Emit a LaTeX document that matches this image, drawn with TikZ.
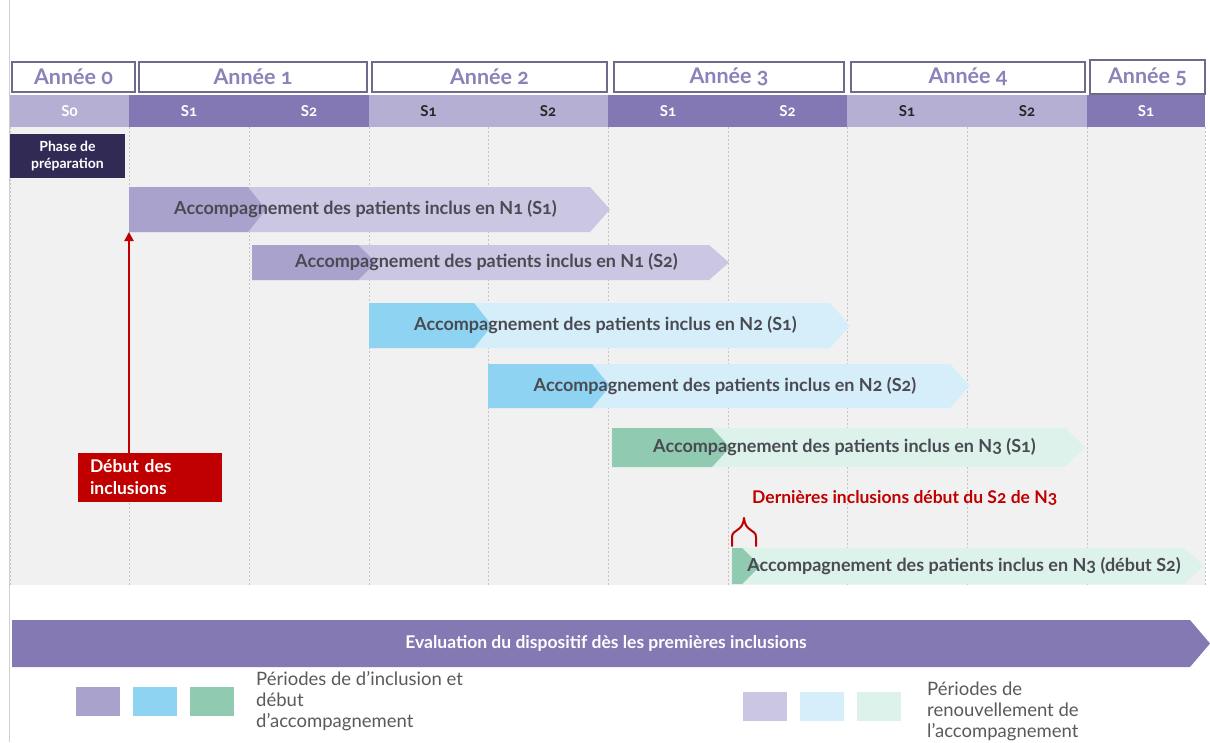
\documentclass[tikz,border=0pt]{standalone}
\usepackage{fontspec}
\setmainfont{Lato}[Numbers=OldStyle]
\usetikzlibrary{arrows.meta}
\definecolor{yearline}{HTML}{6F6A8A}
\definecolor{yeartext}{HTML}{8A82B8}
\definecolor{semLc}{HTML}{B5AFD3}
\definecolor{semDc}{HTML}{8378B3}
\definecolor{gridbg}{HTML}{F1F1F1}
\definecolor{gridln}{HTML}{C4C4C4}
\definecolor{prepc}{HTML}{302A55}
\definecolor{purD}{HTML}{A9A2CC}
\definecolor{purL}{HTML}{CBC6E1}
\definecolor{bluD}{HTML}{8ED3F2}
\definecolor{bluL}{HTML}{D6EEFA}
\definecolor{greD}{HTML}{8FCAB1}
\definecolor{greL}{HTML}{DCF2EA}
\definecolor{redc}{HTML}{C00000}
\definecolor{evalc}{HTML}{8479B3}
\definecolor{rowtxt}{HTML}{4A4A52}
\definecolor{legtxt}{HTML}{5A5A5A}
\definecolor{borderln}{HTML}{D0D0D0}
\tikzset{
  cellbox/.style={inner sep=0pt, outer sep=0pt},
  yearbox/.style={cellbox, draw=yearline, line width=1.3pt, fill=white, text=yeartext, font=\bfseries\fontsize{21.5}{22}\selectfont},
  semlight/.style={cellbox, fill=semLc, text=black!85, font=\bfseries\fontsize{15}{15}\selectfont},
  semlightw/.style={semlight, text=white},
  semdark/.style={cellbox, fill=semDc, text=white, font=\bfseries\fontsize{15}{15}\selectfont},
  prepbox/.style={cellbox, fill=prepc, text=white, align=center, font=\bfseries\fontsize{14}{17}\selectfont},
  debutbox/.style={cellbox, fill=redc, text=white, align=left, text width=120pt, inner xsep=12pt, font=\bfseries\fontsize{17.5}{22}\selectfont},
  rowtext/.style={inner sep=0pt, text=rowtxt, font=\bfseries\fontsize{18}{18}\selectfont},
  redtext/.style={inner sep=0pt, text=redc, font=\bfseries\fontsize{17.5}{18}\selectfont},
  evaltext/.style={inner sep=0pt, text=white, font=\bfseries\fontsize{17.5}{18}\selectfont},
  legsq/.style={cellbox},
  legtext/.style={inner sep=0pt, text=legtxt, align=left, font=\fontsize{18.5}{21}\selectfont},
  gridline/.style={gridln, line width=0.8pt, dash pattern=on 2pt off 2pt},
  redarrow/.style={redc, line width=2pt, -{Triangle[length=9pt,width=9pt]}},
  bracestyle/.style={redc, line width=2pt, line cap=round, line join=round}
}
% #1 name, #2 style, #3 x1, #4 y1, #5 x2, #6 y2, #7 text
\newcommand{\cellnode}[7]{\node[#2, minimum width={(#5-#3)*1pt}, minimum height={(#6-#4)*1pt}] (#1) at ({(#3+#5)/2},{(#4+#6)/2}) {#7};}
% #1 name, #2 x start, #3 y top, #4 y bottom, #5 dark tip, #6 light tip, #7 colour prefix, #8 text
\newcommand{\chevrow}[8]{%
  \fill[#7L] (#2,#3) -- ({#6-20},#3) -- (#6,{(#3+#4)/2}) -- ({#6-20},#4) -- (#2,#4) -- cycle;
  \fill[#7D] (#2,#3) -- ({#5-18},#3) -- (#5,{(#3+#4)/2}) -- ({#5-18},#4) -- (#2,#4) -- cycle;
  \coordinate (#1-sw) at (#2,#4);
  \node[rowtext] (#1) at ({(#2+#6)/2-4},{(#3+#4)/2}) {#8};}
\begin{document}
\begin{tikzpicture}[x=1pt,y=-1pt]
\useasboundingbox (0,0) rectangle (1210,742);
\fill[white] (0,0) rectangle (1210,742);
\draw[borderln, line width=1pt] (9,0) -- (9,742);
% years
\cellnode{y0}{yearbox}{12}{62}{135}{92}{Année 0}
\cellnode{y1}{yearbox}{139}{62}{367}{92}{Année 1}
\cellnode{y2}{yearbox}{372}{62}{607}{92}{Année 2}
\cellnode{y3}{yearbox}{614}{62}{844}{92}{Année 3}
\cellnode{y4}{yearbox}{851}{62}{1085}{92}{Année 4}
\cellnode{y5}{yearbox}{1090}{60}{1205}{94}{Année 5}
% semesters
\cellnode{s0}{semlightw}{10}{95}{129}{127}{S0}
\cellnode{s11}{semdark}{129}{95}{249}{127}{S1}
\cellnode{s12}{semdark}{249}{95}{369}{127}{S2}
\cellnode{s21}{semlight}{369}{95}{488}{127}{S1}
\cellnode{s22}{semlight}{488}{95}{608}{127}{S2}
\cellnode{s31}{semdark}{608}{95}{728}{127}{S1}
\cellnode{s32}{semdark}{728}{95}{847}{127}{S2}
\cellnode{s41}{semlight}{847}{95}{967}{127}{S1}
\cellnode{s42}{semlight}{967}{95}{1087}{127}{S2}
\cellnode{s51}{semdark}{1087}{95}{1205}{127}{S1}
% grid
\fill[gridbg] (10,127) rectangle (1205,585);
\foreach \gx in {10,129,249,369,488,608,728,847,967,1087,1205}
  \draw[gridline] (\gx,127) -- (\gx,585);
% preparation
\cellnode{prep}{prepbox}{10}{134}{125}{178}{Phase de\\préparation}
% rows
\chevrow{r1}{129}{187}{232}{266}{610}{pur}{Accompagnement des patients inclus en N1 (S1)}
\chevrow{r2}{252}{245}{280}{376}{729}{pur}{Accompagnement des patients inclus en N1 (S2)}
\chevrow{r3}{369}{303}{348}{492}{850}{blu}{Accompagnement des patients inclus en N2 (S1)}
\chevrow{r4}{488}{364}{408}{610}{970}{blu}{Accompagnement des patients inclus en N2 (S2)}
\chevrow{r5}{612}{428}{467}{730}{1085}{gre}{Accompagnement des patients inclus en N3 (S1)}
\chevrow{r6}{732}{548}{584}{760}{1204}{gre}{Accompagnement des patients inclus en N3 (début S2)}
% debut des inclusions
\cellnode{debut}{debutbox}{78}{453}{222}{502}{Début des\\inclusions}
\draw[redarrow] (debut.north -| r1-sw) -- (r1-sw);
% last inclusions
\node[redtext, anchor=west] (last) at (752,498) {Dernières inclusions début du S2 de N3};
\draw[bracestyle] (732,546) -- (732,537) .. controls (732,529) and (743,532) .. (744,518) .. controls (745,532) and (756,529) .. (756,537) -- (756,546);
% evaluation
\fill[evalc] (12,620) -- (1190,620) -- (1210,643.5) -- (1190,667) -- (12,667) -- cycle;
\node[evaltext] (eval) at (606,643.5) {Evaluation du dispositif dès les premières inclusions};
% legend
\cellnode{lg1}{legsq, fill=purD}{76}{687}{120}{716}{}
\cellnode{lg2}{legsq, fill=bluD}{133}{687}{177}{716}{}
\cellnode{lg3}{legsq, fill=greD}{190}{687}{234}{716}{}
\node[legtext, anchor=north west] (lt1) at (256,671) {Périodes de d’inclusion et\\début\\d’accompagnement};
\cellnode{lg4}{legsq, fill=purL}{743}{692}{787}{721}{}
\cellnode{lg5}{legsq, fill=bluL}{800}{692}{844}{721}{}
\cellnode{lg6}{legsq, fill=greL}{857}{692}{901}{721}{}
\node[legtext, anchor=north west] (lt2) at (927,682) {Périodes de\\renouvellement de\\l’accompagnement};
\end{tikzpicture}
\end{document}
